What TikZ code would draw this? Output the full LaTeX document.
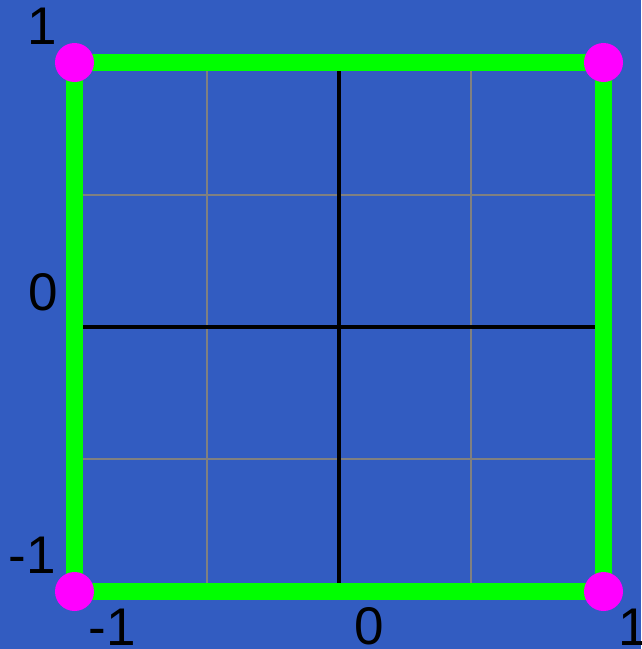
\documentclass[tikz,border=0pt]{standalone}
\usepackage{fontspec}
\setmainfont{Liberation Sans}
\definecolor{bgblue}{RGB}{50,92,193}
\begin{document}
\begin{tikzpicture}[x=1pt,y=-1pt,
  gridline/.style={draw={rgb,255:red,128;green,128;blue,128},line width=2pt},
  axisline/.style={draw=black,line width=4.5pt},
  frameline/.style={draw={rgb,255:red,0;green,255;blue,0},line width=17pt},
  corner/.style={circle,fill={rgb,255:red,255;green,0;blue,255},minimum size=39pt,inner sep=0pt},
  ticklabel/.style={inner sep=0pt,font=\fontsize{53}{60}\selectfont,text=black}]
\fill[bgblue] (0,0) rectangle (641,649);
\useasboundingbox (0,0) rectangle (641,649);
% corners
\coordinate (tl) at (74.5,62.5);
\coordinate (tr) at (603.5,62.5);
\coordinate (br) at (603.5,591.5);
\coordinate (bl) at (74.5,591.5);
% grid
\coordinate (g1t) at (206.75,62.5); \coordinate (g1b) at (206.75,591.5);
\coordinate (g3t) at (471.25,62.5); \coordinate (g3b) at (471.25,591.5);
\coordinate (h1l) at (74.5,194.75); \coordinate (h1r) at (603.5,194.75);
\coordinate (h3l) at (74.5,459.25); \coordinate (h3r) at (603.5,459.25);
\draw[gridline] (g1t) -- (g1b);
\draw[gridline] (g3t) -- (g3b);
\draw[gridline] (h1l) -- (h1r);
\draw[gridline] (h3l) -- (h3r);
% axes
\coordinate (vt) at (339,62.5); \coordinate (vb) at (339,591.5);
\coordinate (hl) at (74.5,326.75); \coordinate (hr) at (603.5,326.75);
\draw[axisline] (vt) -- (vb);
\draw[axisline] (hl) -- (hr);
% frame
\draw[frameline] (tl) -- (tr) -- (br) -- (bl) -- cycle;
\node[corner] (ctl) at (tl) {};
\node[corner] (ctr) at (tr) {};
\node[corner] (cbr) at (br) {};
\node[corner] (cbl) at (bl) {};
% labels
\node[ticklabel] (ly1) at (42,26.5) {1};
\node[ticklabel] (ly0) at (43,292.5) {0};
\node[ticklabel] (lym) at (32,555.5) {-1};
\node[ticklabel] (lxm) at (112.5,627) {-1};
\node[ticklabel] (lx0) at (369.5,626.5) {0};
\node[ticklabel] (lx1) at (633,627.5) {1};
\end{tikzpicture}
\end{document}
